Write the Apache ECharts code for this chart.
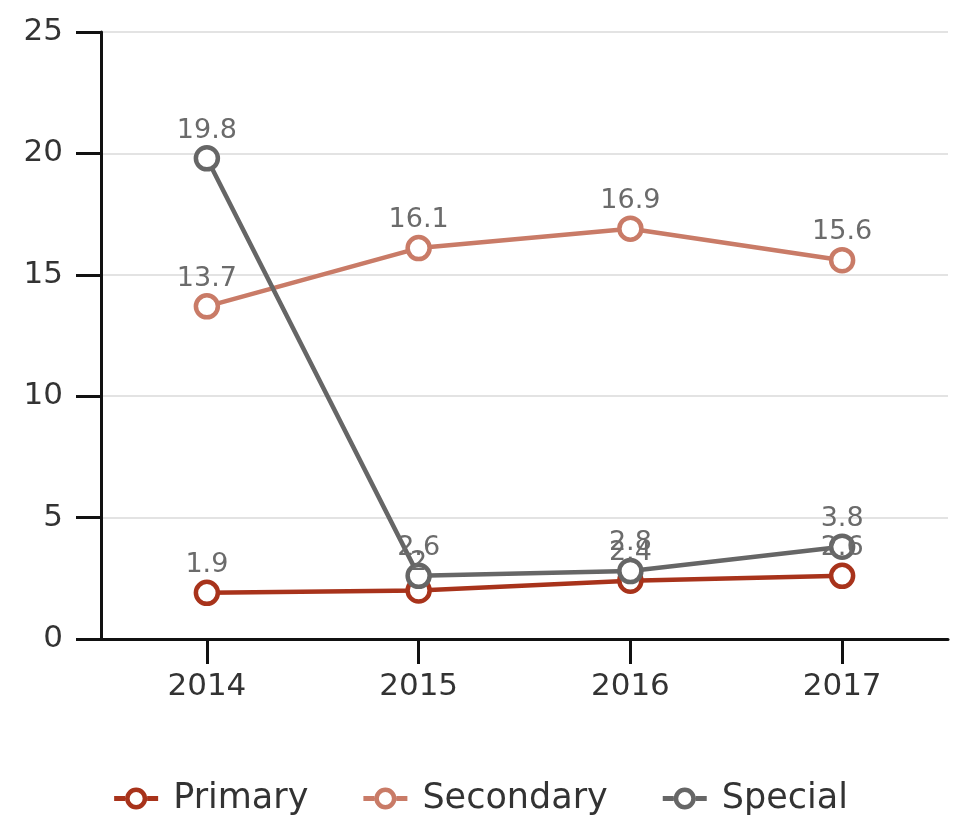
<!DOCTYPE html>
<html>
<head>
<meta charset="utf-8">
<script src="https://cdn.jsdelivr.net/npm/echarts@6/dist/echarts.min.js"></script>
<style>
  html, body { margin: 0; padding: 0; background: #fff; }
  #chart { width: 962px; height: 821px; }
</style>
</head>
<body>
<div id="chart"></div>
<script>
  const years = ['2014', '2015', '2016', '2017'];
  const primary = [1.9, 2.0, 2.4, 2.6];
  const secondary = [13.7, 16.1, 16.9, 15.6];
  const special = [19.8, 2.6, 2.8, 3.8];
  const yTicks = [0, 5, 10, 15, 20, 25];

  const colors = {
    Primary: '#a8331b',
    Secondary: '#c97b67',
    Special: '#666666'
  };
  const font = '"DejaVu Sans", sans-serif';
  // line + ring legend marker
  const legendIcon = 'path://M0,8.5 L11,8.5 L11,13.5 L0,13.5 Z M33,8.5 L44,8.5 L44,13.5 L33,13.5 Z ' +
    'M22,0 A11,11 0 1,1 22,22 A11,11 0 1,1 22,0 Z M22,4.5 A6.5,6.5 0 1,0 22,17.5 A6.5,6.5 0 1,0 22,4.5 Z';

  const makeSeries = (name, data) => ({
    name: name,
    type: 'line',
    data: data,
    symbol: 'circle',
    symbolSize: 22,
    itemStyle: { color: '#fff', borderColor: colors[name], borderWidth: 4.5 },
    lineStyle: { color: colors[name], width: 4.5 },
    label: {
      show: true,
      position: 'top',
      distance: 1,
      color: '#6b6b6b',
      fontSize: 27,
      fontFamily: font
    },
    emphasis: { disabled: true },
    animation: false
  });

  const chart = echarts.init(document.getElementById('chart'));
  chart.setOption({
    color: [colors.Primary, colors.Secondary, colors.Special],
    grid: { left: 101, right: 14, top: 32, bottom: 182, containLabel: false },
    legend: {
      bottom: 0,
      left: 'center',
      itemWidth: 44,
      itemHeight: 22,
      itemGap: 55,
      textStyle: { fontSize: 35, color: '#333', fontFamily: font, padding: [0, 0, 0, 10] },
      data: ['Primary', 'Secondary', 'Special'].map(n => ({
        name: n,
        icon: legendIcon,
        itemStyle: { color: colors[n], borderWidth: 0 }
      }))
    },
    xAxis: {
      type: 'category',
      data: years,
      boundaryGap: true,
      axisLine: { show: true, lineStyle: { color: '#111', width: 3 } },
      axisTick: { show: true, alignWithLabel: true, interval: 0, length: 25, lineStyle: { color: '#111', width: 3 } },
      axisLabel: { fontSize: 31, color: '#333', margin: 32, fontFamily: font }
    },
    yAxis: {
      type: 'value',
      min: yTicks[0],
      max: yTicks[yTicks.length - 1],
      interval: 5,
      axisLine: { show: true, lineStyle: { color: '#111', width: 3 } },
      axisTick: { show: true, length: 25, lineStyle: { color: '#111', width: 3 } },
      axisLabel: { fontSize: 31, color: '#333', margin: 38, fontFamily: font },
      splitLine: { lineStyle: { color: '#e3e3e3', width: 2 } }
    },
    series: [
      makeSeries('Primary', primary),
      makeSeries('Secondary', secondary),
      makeSeries('Special', special)
    ]
  });
</script>
</body>
</html>
